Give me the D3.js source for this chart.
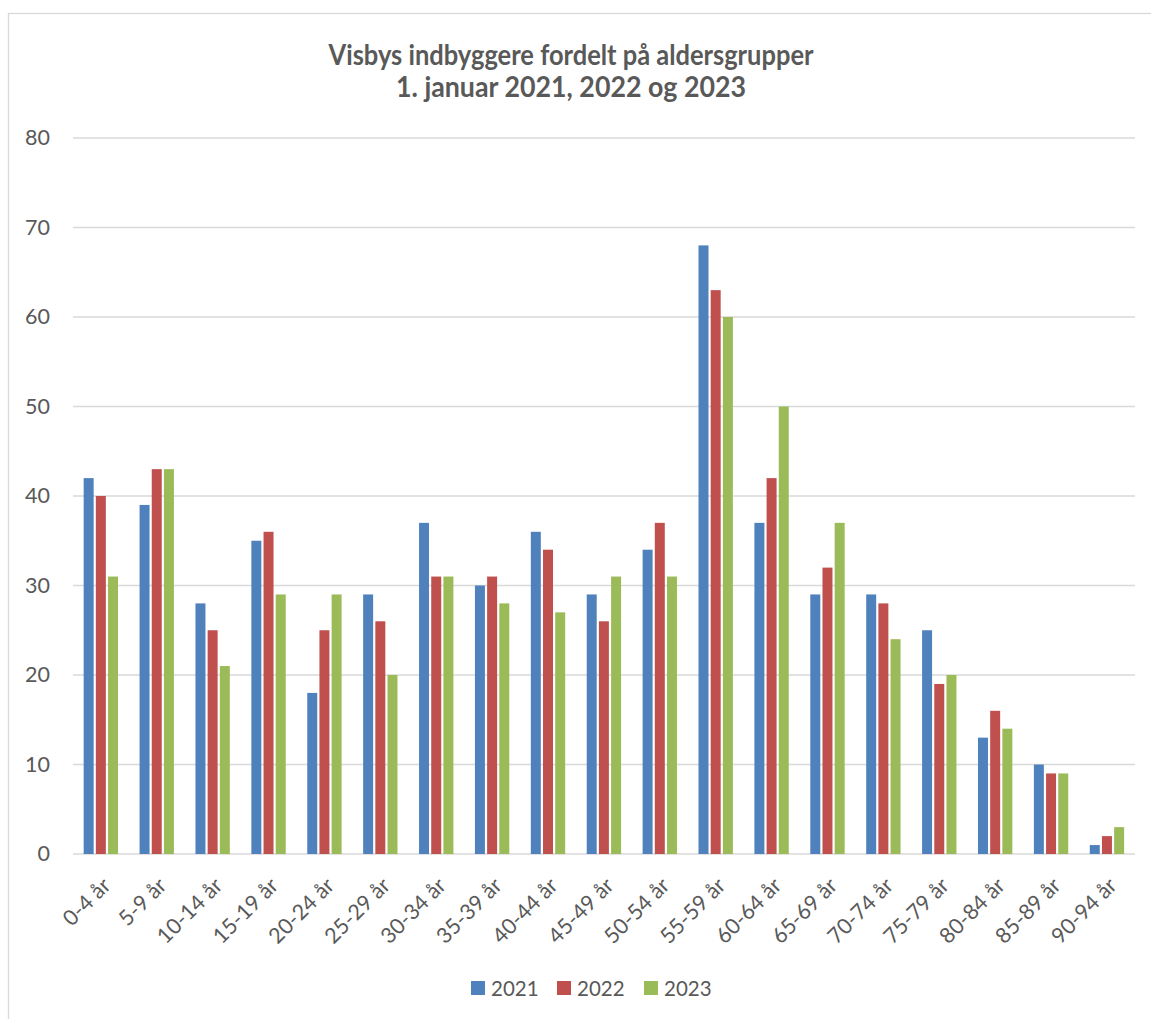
<!DOCTYPE html>
<html>
<head>
<meta charset="utf-8">
<script src="https://cdn.jsdelivr.net/npm/d3@7"></script>
<style>
  html, body { margin: 0; padding: 0; background: #fff; }
  svg { display: block; }
</style>
</head>
<body>
<svg id="chart" width="1151" height="1019"></svg>
<script>
const categories = ["0-4 år","5-9 år","10-14 år","15-19 år","20-24 år","25-29 år","30-34 år","35-39 år","40-44 år","45-49 år","50-54 år","55-59 år","60-64 år","65-69 år","70-74 år","75-79 år","80-84 år","85-89 år","90-94 år"];
const seriesNames = ["2021","2022","2023"];
const values2021 = [42,39,28,35,18,29,37,30,36,29,34,68,37,29,29,25,13,10,1];
const values2022 = [40,43,25,36,25,26,31,31,34,26,37,63,42,32,28,19,16,9,2];
const values2023 = [31,43,21,29,29,20,31,28,27,31,31,60,50,37,24,20,14,9,3];
const yTicks = [0,10,20,30,40,50,60,70,80];
const titleLines = ["Visbys indbyggere fordelt på aldersgrupper","1. januar 2021, 2022 og 2023"];
const colors = ["#4F81BD","#C0504D","#9BBB59"];

const series = [values2021, values2022, values2023];
const svg = d3.select("#chart");
const font = "Lato, 'Open Sans', sans-serif";
const textColor = "#595959";

// chart frame
svg.append("rect").attr("x", 8.5).attr("y", 13.5).attr("width", 1160).attr("height", 1020)
  .attr("fill", "none").attr("stroke", "#d9d9d9").attr("stroke-width", 1.3);

const plotLeft = 73, plotRight = 1135, plotTop = 138, plotBottom = 854;
const x = d3.scaleBand().domain(categories).range([plotLeft, plotRight]).padding(0);
const y = d3.scaleLinear().domain([0, 80]).range([plotBottom, plotTop]);
const slot = x.bandwidth() * 0.218;
const x1 = d3.scaleBand().domain(seriesNames).range([0, slot * 3]);

// gridlines
svg.append("g").selectAll("line").data(yTicks).join("line")
  .attr("x1", plotLeft).attr("x2", plotRight)
  .attr("y1", d => y(d)).attr("y2", d => y(d))
  .attr("stroke", "#d9d9d9").attr("stroke-width", 1.4);

// y axis labels
const yAxis = d3.axisLeft(y).tickValues(yTicks).tickSize(0).tickPadding(0);
const gy = svg.append("g").attr("transform", `translate(50,0)`).call(yAxis);
gy.select(".domain").remove();
gy.selectAll("text").attr("font-family", font).attr("font-size", 21.5).attr("fill", textColor);

// bars
const groups = svg.append("g").selectAll("g").data(categories).join("g")
  .attr("transform", (d) => `translate(${x(d) + x.bandwidth()/2 - slot*1.5},0)`);
groups.selectAll("rect").data((d, i) => seriesNames.map((s, j) => ({s, v: series[j][i], j})))
  .join("rect")
  .attr("x", d => x1(d.s) + 1)
  .attr("width", slot - 2.2)
  .attr("y", d => y(d.v))
  .attr("height", d => y(0) - y(d.v))
  .attr("fill", d => colors[d.j]);

// x axis labels
const xAxis = d3.axisBottom(x).tickSize(0).tickPadding(0);
const gx = svg.append("g").attr("transform", `translate(0,${plotBottom})`).call(xAxis);
gx.select(".domain").remove();
gx.selectAll("text")
  .attr("font-family", font).attr("font-size", 21.5).attr("fill", textColor)
  .attr("text-anchor", "end")
  .attr("dy", null).attr("y", null)
  .attr("transform", "translate(11,33) rotate(-45)");

// title
svg.append("g").selectAll("text").data(titleLines).join("text")
  .attr("x", 571).attr("y", (d, i) => 65 + i * 32)
  .attr("text-anchor", "middle")
  .attr("font-family", font).attr("font-weight", "bold").attr("font-size", 28)
  .attr("fill", textColor)
  .attr("textLength", (d, i) => i === 0 ? 485 : 350)
  .attr("lengthAdjust", "spacingAndGlyphs")
  .text(d => d);

// legend
const legendX = [471, 557, 644];
const lg = svg.append("g").selectAll("g").data(seriesNames).join("g")
  .attr("transform", (d, i) => `translate(${legendX[i]},981)`);
lg.append("rect").attr("width", 14).attr("height", 14).attr("fill", (d, i) => colors[i]);
lg.append("text").attr("x", 20).attr("y", 14.5)
  .attr("font-family", font).attr("font-size", 20.5).attr("fill", textColor)
  .text(d => d);
</script>
</body>
</html>
